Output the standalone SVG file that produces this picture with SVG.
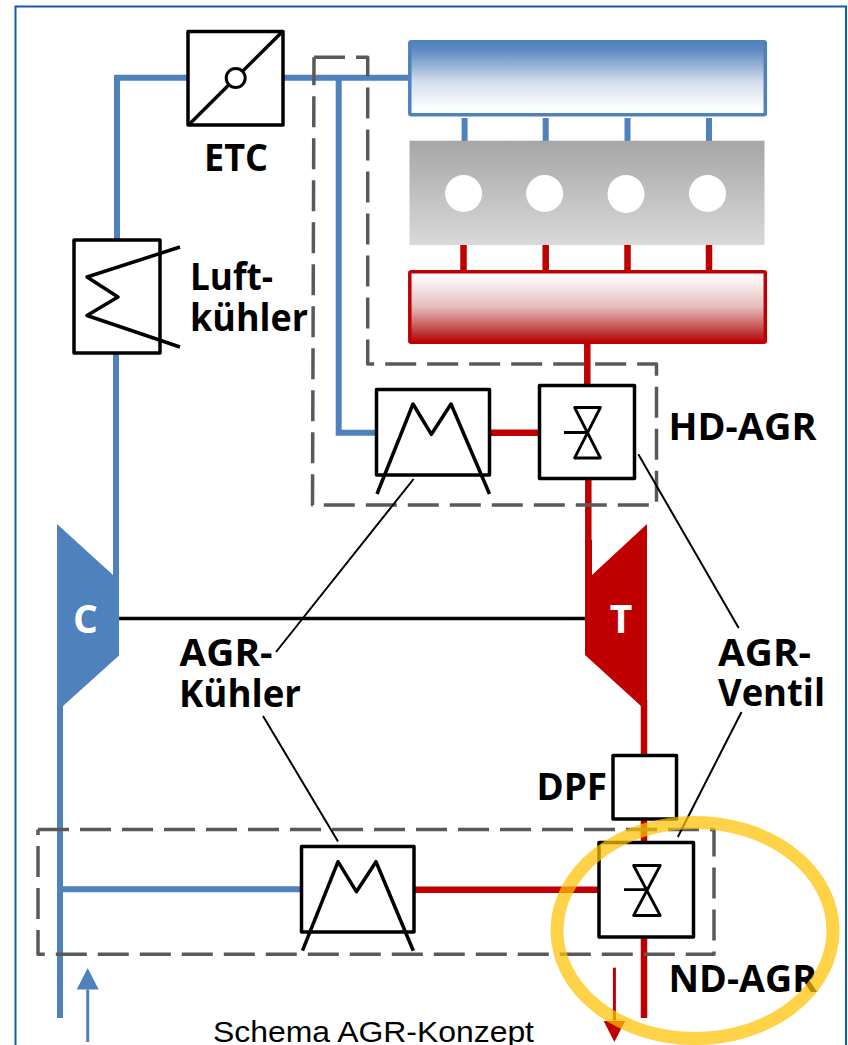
<svg xmlns="http://www.w3.org/2000/svg" width="848" height="1045" viewBox="0 0 848 1045">
<style>
.bg{fill:#fff}
.frame{fill:none;stroke:#0F5CA8;stroke-width:2}
.blue{fill:none;stroke:#4F81BD;stroke-width:6}
.red{fill:none;stroke:#C00000;stroke-width:6.5}
.box{fill:#fff;stroke:#000;stroke-width:3.5;stroke-linejoin:round}
.sym{fill:none;stroke:#000;stroke-width:3.5;stroke-linejoin:round}
.thin{fill:none;stroke:#000;stroke-width:2.8;stroke-linejoin:round}
.lead{fill:none;stroke:#000;stroke-width:2}
.shaft{fill:none;stroke:#000;stroke-width:3.5}
.dash{fill:none;stroke:#595959;stroke-width:3.5;stroke-dasharray:31 11;stroke-linejoin:round}
.lbl{font-family:"Open Sans","Noto Sans",sans-serif;font-weight:700;font-size:38px;fill:#000}
.wht{font-family:"Open Sans","Noto Sans",sans-serif;font-weight:700;font-size:39px;fill:#fff;text-anchor:middle}
.cap{font-family:"Liberation Sans",Arial,sans-serif;font-size:30px;fill:#000}
</style>
<defs>
<linearGradient id="gBlue" x1="0" y1="0" x2="0" y2="1"><stop offset="0" stop-color="#4F81BD"/><stop offset=".12" stop-color="#5F8CC2"/><stop offset=".55" stop-color="#D3DDEC"/><stop offset=".9" stop-color="#FBFCFE"/><stop offset="1" stop-color="#fff"/></linearGradient>
<linearGradient id="gRed" x1="0" y1="0" x2="0" y2="1"><stop offset="0" stop-color="#fff"/><stop offset=".12" stop-color="#FBF5F5"/><stop offset=".5" stop-color="#E6BCBC"/><stop offset=".9" stop-color="#B92A2A"/><stop offset="1" stop-color="#C00000"/></linearGradient>
<linearGradient id="gGrey" x1="0" y1="0" x2="0" y2="1"><stop offset="0" stop-color="#A6A6A6"/><stop offset="1" stop-color="#D9D9D9"/></linearGradient>
<marker id="headBlue" markerUnits="userSpaceOnUse" markerWidth="22" markerHeight="22" refX="0" refY="11" orient="auto"><polygon points="0,0 21.5,11 0,22" fill="#4F81BD"/></marker>
<marker id="headRed" markerUnits="userSpaceOnUse" markerWidth="22" markerHeight="22" refX="0" refY="11" orient="auto"><polygon points="0,0 21.5,11 0,22" fill="#C00000"/></marker>
</defs>
<rect class="bg" width="848" height="1045"/>
<path class="frame" d="M15.5,1045V6.5H846V1045"/>

<g id="connectors">
<path class="blue" d="M187,77.7H117V240M116,353V575M283,77.7H408M338.7,77.7V432.7H376"/>
<path class="blue" d="M60,700V1018M60,889.3H301"/>
<path class="blue" d="M464.6,118V141M545.7,118V141M627.5,118V141M709,118V141"/>
<path class="red" d="M463.5,245V270M545.7,245V270M627.5,245V270M709,245V270"/>
<path class="red" d="M587.3,343V385M490,432.7H539M588.3,478V580"/>
<path class="red" d="M644,700V755M644,819V842M414,889.7H598M644,937V1018"/>
<path class="shaft" d="M119,618.5H586"/>
<path fill="none" stroke="#4F81BD" stroke-width="3" marker-end="url(#headBlue)" d="M87.7,1042V989.5"/>
<path fill="none" stroke="#C00000" stroke-width="3" marker-end="url(#headRed)" d="M614.4,967.7V1020.5"/>
</g>

<g id="intake-manifold"><rect x="409.8" y="41.8" width="355.5" height="73" rx="1.5" fill="url(#gBlue)" stroke="#4F81BD" stroke-width="3.5"/></g>
<g id="engine">
<rect x="409.5" y="140.7" width="355" height="104.3" fill="url(#gGrey)"/>
<ellipse cx="463.6" cy="193.5" rx="18.5" ry="18.5" fill="#fff"/>
<ellipse cx="544.7" cy="193.5" rx="18.5" ry="18.5" fill="#fff"/>
<ellipse cx="626" cy="194" rx="18.5" ry="19" fill="#fff"/>
<ellipse cx="707.5" cy="193.5" rx="18.5" ry="18.5" fill="#fff"/>
</g>
<g id="exhaust-manifold"><rect x="409.8" y="271.8" width="355.5" height="70.5" rx="1.5" fill="url(#gRed)" stroke="#C00000" stroke-width="3.5"/></g>

<g id="etc">
<rect class="box" x="188" y="31.5" width="95" height="93.5"/>
<path class="sym" d="M190,123.5L281,33"/>
<circle cx="235.7" cy="78" r="9.5" fill="#fff" stroke="#000" stroke-width="3"/>
<text class="lbl" x="204" y="170.5" textLength="64" lengthAdjust="spacingAndGlyphs">ETC</text>
</g>
<g id="luftkuehler">
<rect class="box" x="74" y="240" width="86" height="113"/>
<path class="sym" d="M180,247L87,277L118,297L87,315.5L180,347"/>
<text class="lbl" x="190" y="290" textLength="83" lengthAdjust="spacingAndGlyphs">Luft-</text>
<text class="lbl" x="190" y="330.7" textLength="118" lengthAdjust="spacingAndGlyphs">kühler</text>
</g>
<g id="hd-agr-kuehler">
<rect class="box" x="376.5" y="389.5" width="113" height="85.5"/>
<path class="sym" d="M377,494L413,404L431.4,434.3L451,404L489.5,494"/>
</g>
<g id="hd-agr-ventil">
<rect class="box" x="539.5" y="385.5" width="95" height="93"/>
<path class="thin" d="M574.6,407.5H600.4L574.6,458H600.4ZM564,432.5H587"/>
</g>
<g id="compressor">
<polygon points="57,524 113,575 113,540 119,540 119,655.4 63,706 57,706" fill="#4F81BD"/>
<text class="wht" x="85.5" y="633">C</text>
</g>
<g id="turbine">
<polygon points="647,524 592,575 592,540 585,540 585,655 641,706 647,706" fill="#C00000"/>
<text class="wht" x="621" y="633">T</text>
</g>
<g id="dpf">
<rect class="box" x="613" y="755.5" width="63.5" height="63.5"/>
<text class="lbl" x="536.5" y="800" textLength="70.5" lengthAdjust="spacingAndGlyphs">DPF</text>
</g>
<g id="nd-agr-kuehler">
<rect class="box" x="301.5" y="846.5" width="112.5" height="85.5"/>
<path class="sym" d="M302.5,950.7L338,861.7L356.4,891.7L376,861.7L413.3,950.7"/>
</g>
<g id="nd-agr-ventil">
<rect class="box" x="599" y="842.5" width="94.5" height="94.5"/>
<path class="thin" d="M633.6,865.5H660.2L633.6,915.5H660.2ZM624,889.7H647"/>
</g>

<g id="hd-agr-gruppe">
<path class="dash" d="M314,57.2H367.7V364H656.5V505H312.5L314,57.2"/>
<text class="lbl" x="668.5" y="440" textLength="148" lengthAdjust="spacingAndGlyphs">HD-AGR</text>
</g>
<g id="nd-agr-gruppe">
<path class="dash" d="M38,829.5H714V954.3H38V829.5"/>
<text class="lbl" x="668.5" y="991.7" textLength="148.5" lengthAdjust="spacingAndGlyphs">ND-AGR</text>
</g>

<g id="agr-kuehler-label">
<path class="lead" d="M276,652L413.6,479M263,716L338,841.5"/>
<text class="lbl" x="179.5" y="665.8" textLength="93" lengthAdjust="spacingAndGlyphs">AGR-</text>
<text class="lbl" x="179" y="706.8" textLength="122" lengthAdjust="spacingAndGlyphs">Kühler</text>
</g>
<g id="agr-ventil-label">
<path class="lead" d="M638.3,454.3L738.7,628M677.8,837L741.5,712"/>
<text class="lbl" x="718" y="665.7" textLength="93" lengthAdjust="spacingAndGlyphs">AGR-</text>
<text class="lbl" x="718" y="706" textLength="107" lengthAdjust="spacingAndGlyphs">Ventil</text>
</g>
<text id="caption" class="cap" x="213" y="1042" textLength="321" lengthAdjust="spacingAndGlyphs">Schema AGR-Konzept</text>
<g id="highlight"><ellipse cx="695" cy="930.5" rx="138" ry="108" fill="none" stroke="#FFC000" stroke-width="13" stroke-opacity=".72"/></g>
</svg>
